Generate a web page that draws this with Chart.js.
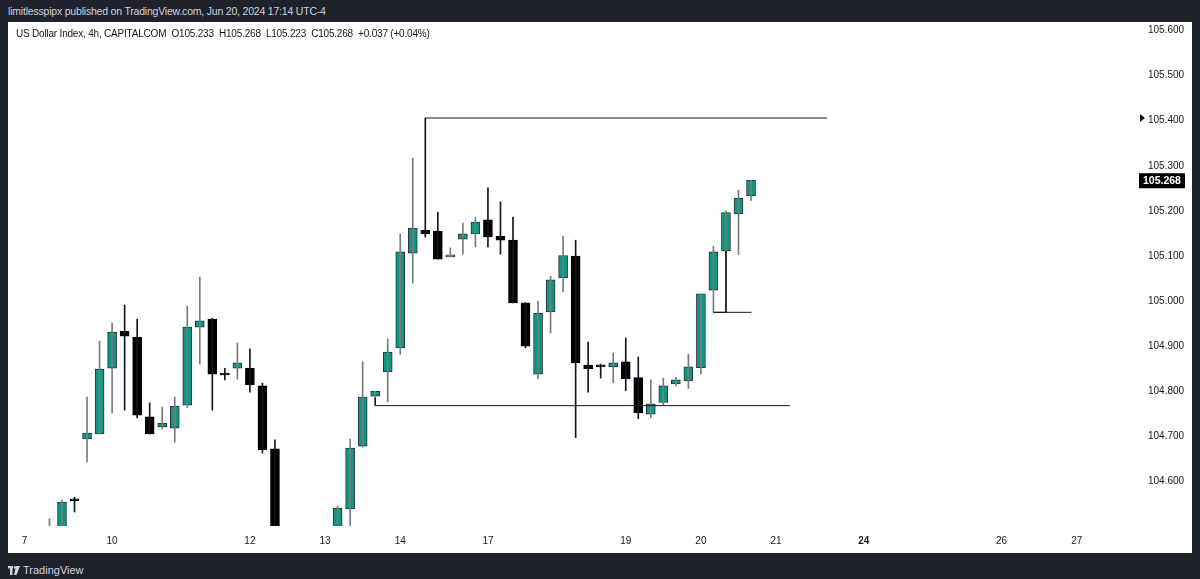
<!DOCTYPE html>
<html>
<head>
<meta charset="utf-8">
<script src="https://cdn.jsdelivr.net/npm/chart.js@4.4.0/dist/chart.umd.min.js"></script>
<style>
body { margin:0; width:1200px; height:579px; background:#1e222d; overflow:hidden; font-family:"Liberation Sans", Arial, sans-serif; }
#head { position:absolute; left:8px; top:5px; font-size:10.5px; letter-spacing:-0.2px; color:#d1d4dc; }
#panel { position:absolute; left:8px; top:22px; width:1184px; height:531px; background:#fff; }
#myChart { position:absolute; left:0; top:0; }
#legend { position:absolute; left:8px; top:6px; font-size:10px; letter-spacing:-0.2px; color:#131722; white-space:pre; }
#foot { position:absolute; left:8px; top:564px; font-size:11px; color:#d1d4dc; display:flex; align-items:center; }
#foot svg { margin-right:3px; }
</style>
</head>
<body>
<div id="head">limitlesspipx published on TradingView.com, Jun 20, 2024 17:14 UTC-4</div>
<div id="panel">
  <canvas id="myChart" width="1184" height="531"></canvas>
  <div id="legend">US Dollar Index, 4h, CAPITALCOM  O105.233  H105.268  L105.223  C105.268  +0.037 (+0.04%)</div>
</div>
<div id="foot">
  <svg width="12" height="9" viewBox="0 0 12 9"><rect x="0" y="0" width="5" height="2.5" fill="#d1d4dc"/><rect x="2" y="0" width="2.5" height="9" fill="#d1d4dc"/><circle cx="7" cy="1.5" r="1.3" fill="#d1d4dc"/><polygon points="8,0 12,0 8.5,9 6,9" fill="#d1d4dc"/></svg>
  <span>TradingView</span>
</div>
<script>
'use strict';

// first candle sits at bar -1, one bar = 4h
let firstBar = -1;

let opens = [104.47, 104.48, 104.557, 104.694, 104.705, 104.851, 104.933, 104.920, 104.743, 104.721,
  104.718, 104.769, 104.942, 104.960, 104.836, 104.851, 104.851, 104.812, 104.672, 104.45,
  104.42, 104.46, 104.44, 104.47, 104.539, 104.678, 104.789, 104.843, 104.896, 105.106,
  105.157, 105.155, 105.098, 105.137, 105.149, 105.180, 105.144, 105.135, 104.996, 104.838,
  104.976, 105.052, 105.100, 104.858, 104.854, 104.854, 104.865, 104.830, 104.749, 104.775,
  104.816, 104.823, 104.852, 105.024, 105.111, 105.193, 105.233];
let highs = [104.517, 104.559, 104.565, 104.787, 104.911, 104.951, 104.991, 104.960, 104.774, 104.765,
  104.787, 104.989, 105.053, 104.962, 104.851, 104.907, 104.894, 104.818, 104.692, 104.48,
  104.47, 104.49, 104.49, 104.545, 104.694, 104.865, 104.800, 104.916, 105.149, 105.317,
  105.406, 105.197, 105.118, 105.173, 105.186, 105.251, 105.220, 105.186, 104.996, 105.000,
  105.055, 105.144, 105.135, 104.909, 104.860, 104.885, 104.918, 104.876, 104.825, 104.829,
  104.831, 104.882, 105.016, 105.122, 105.200, 105.246, 105.268];
let lows = [104.45, 104.47, 104.532, 104.643, 104.705, 104.752, 104.758, 104.741, 104.705, 104.716,
  104.687, 104.763, 104.860, 104.758, 104.825, 104.827, 104.798, 104.663, 104.43, 104.40,
  104.41, 104.42, 104.43, 104.46, 104.49, 104.676, 104.785, 104.776, 104.882, 105.040,
  105.142, 105.093, 105.098, 105.104, 105.120, 105.120, 105.104, 104.996, 104.896, 104.827,
  104.929, 105.020, 104.697, 104.798, 104.829, 104.819, 104.801, 104.739, 104.741, 104.769,
  104.812, 104.806, 104.838, 104.976, 105.111, 105.103, 105.223];
let closes = [104.49, 104.554, 104.557, 104.707, 104.849, 104.931, 104.922, 104.747, 104.705, 104.729,
  104.767, 104.942, 104.956, 104.838, 104.836, 104.863, 104.814, 104.670, 104.45, 104.42,
  104.46, 104.44, 104.47, 104.541, 104.674, 104.787, 104.800, 104.887, 105.109, 105.162,
  105.149, 105.093, 105.102, 105.149, 105.175, 105.142, 105.135, 104.996, 104.900, 104.973,
  105.047, 105.101, 104.863, 104.850, 104.854, 104.863, 104.828, 104.752, 104.772, 104.812,
  104.825, 104.854, 105.016, 105.109, 105.196, 105.228, 105.268];

// time axis: bar index of each day label
let dayBars = [-3, 4, 15, 21, 27, 34, 45, 51, 57, 64, 75, 81];
let dayNames = ['7', '10', '12', '13', '14', '17', '19', '20', '21', '24', '26', '27'];

let priceTicks = [104.6, 104.7, 104.8, 104.9, 105.0, 105.1, 105.2, 105.3, 105.4, 105.5, 105.6];

// drawn lines (bar index, price)
let topLine = [{x: 29, y: 105.406}, {x: 61.07, y: 105.406}];
let lowLine = [{x: 25, y: 104.785}, {x: 25, y: 104.768}, {x: 58.1, y: 104.768}];
let midLine = [{x: 53, y: 105.111}, {x: 53, y: 104.975}, {x: 52, y: 104.975}, {x: 55.03, y: 104.975}];

let upColor = '#089981';
let downColor = '#000000';

let bodies = [];
let wicks = [];
let bodyColors = [];
let bodyBorders = [];
let wickColors = [];
for (let i = 0; i < opens.length; i++) {
  let x = firstBar + i;
  let up = closes[i] > opens[i];
  bodies.push({x: x, y: [opens[i], closes[i]]});
  wicks.push({x: x, y: [lows[i], highs[i]]});
  bodyColors.push(up ? upColor : downColor);
  bodyBorders.push(up ? '#2a2e39' : downColor);
  wickColors.push(up ? '#787b86' : '#131722');
}

function lineSet(points) {
  return {
    type: 'line',
    data: points,
    borderColor: '#131722',
    borderWidth: 1,
    pointRadius: 0,
    tension: 0
  };
}

// chart.js pads the area for tick labels, we want the plot to fill the panel
function noPadding(scale) {
  scale.paddingTop = 0;
  scale.paddingBottom = 0;
  scale.paddingLeft = 0;
  scale.paddingRight = 0;
}

// black tag with last price + marker of the top line on the price scale
let priceTag = {
  id: 'priceTag',
  afterDraw(chart) {
    let ctx = chart.ctx;
    let area = chart.chartArea;
    let y = chart.scales.y;
    let last = closes[closes.length - 1];
    let py = y.getPixelForValue(last);
    ctx.save();
    ctx.fillStyle = '#000';
    ctx.fillRect(area.right + 3, py - 7, 46, 15);
    ctx.fillStyle = '#fff';
    ctx.font = 'bold 10.5px "Liberation Sans"';
    ctx.textBaseline = 'middle';
    ctx.fillText(last.toFixed(3), area.right + 7, py + 1);
    let ty = y.getPixelForValue(topLine[0].y);
    ctx.fillStyle = '#131722';
    ctx.beginPath();
    ctx.moveTo(area.right + 4, ty - 4);
    ctx.lineTo(area.right + 9, ty);
    ctx.lineTo(area.right + 4, ty + 4);
    ctx.closePath();
    ctx.fill();
    ctx.restore();
  }
};

let ctx = document.getElementById('myChart').getContext('2d');
let chart = new Chart(ctx, {
  type: 'bar',
  data: {
    datasets: [
      lineSet(topLine),
      lineSet(lowLine),
      lineSet(midLine),
      {
        data: wicks,
        backgroundColor: wickColors,
        barThickness: 1,
        grouped: false
      },
      {
        data: bodies,
        backgroundColor: bodyColors,
        borderColor: bodyBorders,
        borderWidth: 1,
        borderSkipped: false,
        barThickness: 9,
        minBarLength: 2,
        grouped: false
      }
    ]
  },
  options: {
    responsive: false,
    animation: false,
    layout: {padding: 0},
    plugins: {legend: {display: false}, tooltip: {enabled: false}},
    scales: {
      x: {
        type: 'linear',
        offset: false,
        min: -4.31,
        max: 85.73,
        grid: {display: false, drawTicks: false},
        border: {display: false},
        afterBuildTicks: function (scale) {
          scale.ticks = dayBars.map(v => ({value: v}));
        },
        afterFit: function (scale) {
          scale.height = 27;
          noPadding(scale);
        },
        ticks: {
          autoSkip: false,
          maxRotation: 0,
          padding: 9,
          color: '#131722',
          font: function (c) {
            return {family: 'Liberation Sans', size: 10, weight: (c.tick && c.tick.value === 64) ? 'bold' : 'normal'};
          },
          callback: function (value) {
            return dayNames[dayBars.indexOf(value)];
          }
        }
      },
      y: {
        position: 'right',
        min: 104.501,
        max: 105.619,
        grid: {display: false, drawTicks: false},
        border: {display: false},
        afterBuildTicks: function (scale) {
          scale.ticks = priceTicks.map(v => ({value: v}));
        },
        afterFit: function (scale) {
          scale.width = 56;
          noPadding(scale);
        },
        ticks: {
          padding: 12,
          color: '#131722',
          font: {family: 'Liberation Sans', size: 10},
          callback: function (value) {
            return value.toFixed(3);
          }
        }
      }
    }
  },
  plugins: [priceTag]
});
</script>
</body>
</html>
